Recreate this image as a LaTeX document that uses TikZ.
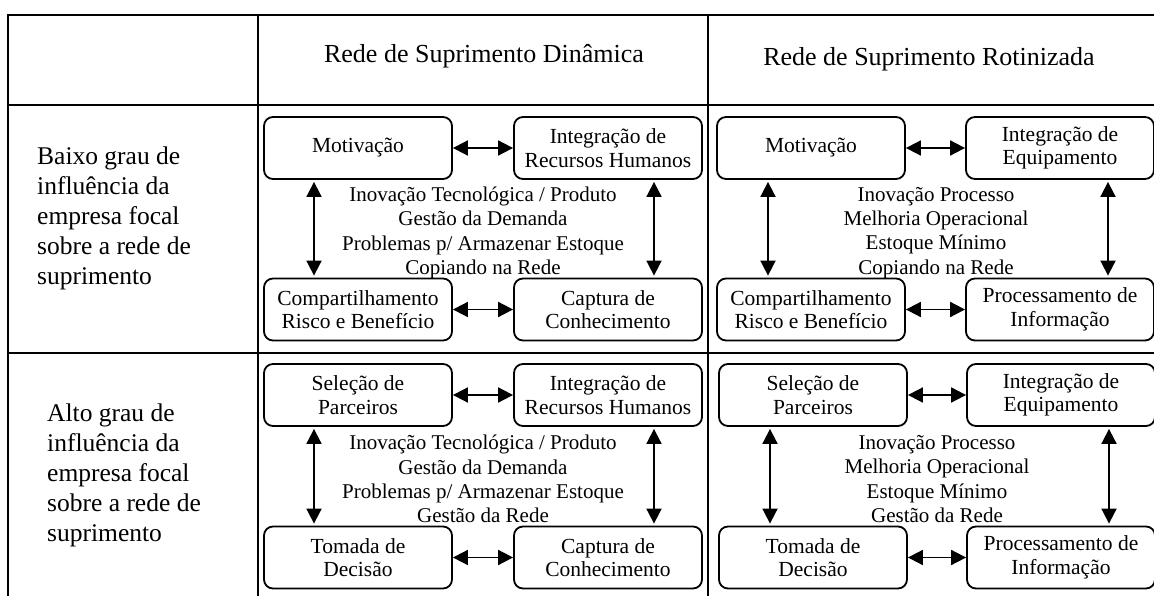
\documentclass[tikz,border=0pt]{standalone}
\usepackage{fontspec}
\setmainfont{Liberation Serif}
\usetikzlibrary{arrows.meta}

\tikzset{
  stage/.style={draw,rectangle,rounded corners=9pt,line width=1.8pt,
    minimum width=188pt,minimum height=62pt,inner sep=0pt,align=center,
    font=\fontsize{21.5}{23.5}\selectfont},
  twoway/.style={draw,line width=1.8pt,
    {Triangle[length=15pt,width=15pt]}-{Triangle[length=15pt,width=15pt]}},
  rule/.style={line width=2.2pt},
  midtext/.style={align=center,inner sep=0pt,font=\fontsize{21}{24.3}\selectfont},
  rowlabel/.style={align=left,anchor=west,inner sep=0pt,font=\fontsize{25.5}{30}\selectfont},
  colhead/.style={inner sep=0pt,font=\fontsize{26}{30}\selectfont}
}

\begin{document}
\begin{tikzpicture}[x=1pt,y=-1pt]

      \useasboundingbox (0,0) rectangle (1154,596);

      \draw[rule] (8,596) -- (8,15) -- (1154,15);
      \draw[rule] (8,105) -- (1154,105);
      \draw[rule] (8,353) -- (1154,353);
      \draw[rule] (258,15) -- (258,596);
      \draw[rule] (708,15) -- (708,596);

      \node[colhead] (h1) at (484,56) {Rede de Suprimento Dinâmica};
      \node[colhead] (h2) at (929,59) {Rede de Suprimento Rotinizada};

      \node[rowlabel] (r1) at (37,218) {Baixo grau de\\influência da\\empresa focal\\sobre a rede de\\suprimento};
      \node[rowlabel] (r2) at (47,475) {Alto grau de\\influência da\\empresa focal\\sobre a rede de\\suprimento};

      \begin{scope}[every node/.style={stage}]
        \node (1)  at (358,148)   {Motivação};
        \node (2)  at (608,148)   {Integração de\\Recursos Humanos};
        \node (3)  at (358,309.5) {Compartilhamento\\Risco e Benefício};
        \node (4)  at (608,309.5) {Captura de\\Conhecimento};
        \node (5)  at (811,148)   {Motivação};
        \node (6)  at (1060,148)  {Integração de\\Equipamento};
        \node (7)  at (811,309.5) {Compartilhamento\\Risco e Benefício};
        \node (8)  at (1060,309.5){Processamento de\\Informação};
        \node (9)  at (358,395)   {Seleção de\\Parceiros};
        \node (10) at (608,395)   {Integração de\\Recursos Humanos};
        \node (11) at (358,557.5) {Tomada de\\Decisão};
        \node (12) at (608,557.5) {Captura de\\Conhecimento};
        \node (13) at (813,395)   {Seleção de\\Parceiros};
        \node (14) at (1061,395)  {Integração de\\Equipamento};
        \node (15) at (813,557.5) {Tomada de\\Decisão};
        \node (16) at (1061,557.5){Processamento de\\Informação};
      \end{scope}

      \begin{scope}[every node/.style={midtext}]
        \node (m1) at (483,233) {Inovação Tecnológica / Produto\\Gestão da Demanda\\Problemas p/ Armazenar Estoque\\Copiando na Rede};
        \node (m2) at (936,233) {Inovação Processo\\Melhoria Operacional\\Estoque Mínimo\\Copiando na Rede};
        \node (m3) at (483,479) {Inovação Tecnológica / Produto\\Gestão da Demanda\\Problemas p/ Armazenar Estoque\\Gestão da Rede};
        \node (m4) at (937,479) {Inovação Processo\\Melhoria Operacional\\Estoque Mínimo\\Gestão da Rede};
      \end{scope}

      \begin{scope}[every edge/.style={twoway}]
        \path (1)  edge (2);
        \path (3)  edge (4);
        \path (5)  edge (6);
        \path (7)  edge (8);
        \path (9)  edge (10);
        \path (11) edge (12);
        \path (13) edge (14);
        \path (15) edge (16);
      \end{scope}

      \begin{scope}[every edge/.style={twoway,shorten >=2pt,shorten <=2pt}]
        \path ([xshift=-44pt]1.south)  edge ([xshift=-44pt]3.north);
        \path ([xshift=46pt]2.south)   edge ([xshift=46pt]4.north);
        \path ([xshift=-43pt]5.south)  edge ([xshift=-43pt]7.north);
        \path ([xshift=48pt]6.south)   edge ([xshift=48pt]8.north);
        \path ([xshift=-44pt]9.south)  edge ([xshift=-44pt]11.north);
        \path ([xshift=46pt]10.south)  edge ([xshift=46pt]12.north);
        \path ([xshift=-43pt]13.south) edge ([xshift=-43pt]15.north);
        \path ([xshift=48pt]14.south)  edge ([xshift=48pt]16.north);
      \end{scope}

    \end{tikzpicture}
\end{document}
